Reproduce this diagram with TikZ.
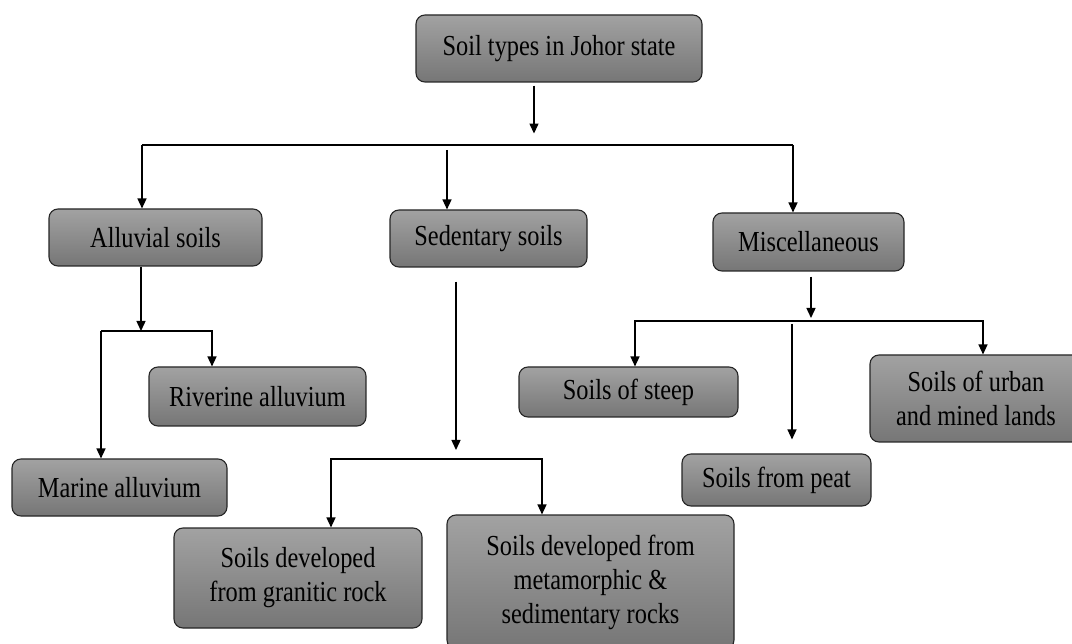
\documentclass[tikz,border=0pt]{standalone}
\usepackage{fontspec}
\setmainfont{Liberation Serif}[FakeStretch=0.84]
\usetikzlibrary{arrows.meta}
\definecolor{boxtop}{HTML}{A2A2A2}
\definecolor{boxbot}{HTML}{767676}
\tikzset{
  soilbox/.style={draw=black!85, line width=1.1pt, rounded corners=9pt,
    top color=boxtop, bottom color=boxbot, inner sep=0pt, align=center,
    font=\fontsize{29}{34}\selectfont},
  arr/.style={line width=1.4pt, -{Triangle[length=10pt,width=9pt]}},
  bus/.style={line width=1.4pt}
}
\begin{document}
\begin{tikzpicture}[x=1pt,y=-1pt]
  \useasboundingbox (0,0) rectangle (1072,644);
  % Boxes
  \node[soilbox, minimum width=286, minimum height=67] (title) at (559,48.5) {Soil types in Johor state};
  \node[soilbox, minimum width=213, minimum height=57] (alluvial) at (155.5,237.5) {Alluvial soils};
  \node[soilbox, minimum width=197, minimum height=57] (sedentary) at (488.5,238.5) {Sedentary soils};
  \node[soilbox, minimum width=191, minimum height=58] (misc) at (808.5,242) {Miscellaneous};
  \node[soilbox, minimum width=217, minimum height=59] (riverine) at (257.5,396.5) {Riverine alluvium};
  \node[soilbox, minimum width=215, minimum height=57] (marine) at (119.5,487.5) {Marine alluvium};
  \node[soilbox, minimum width=219, minimum height=50] (steep) at (628.5,392) {Soils of steep};
  \node[soilbox, minimum width=189, minimum height=52] (peat) at (776.5,480) {Soils from peat};
  \node[soilbox, minimum width=212, minimum height=87] (urban) at (976,398.5) {Soils of urban\\and mined lands};
  \node[soilbox, minimum width=248, minimum height=100] (granitic) at (298,578) {Soils developed\\from granitic rock};
  \node[soilbox, minimum width=287, minimum height=134] (metamorphic) at (590.5,582) {Soils developed from\\metamorphic \&\\sedimentary rocks};

  % Title to the three groups
  \coordinate (busL) at (142,145);
  \coordinate (busR) at (793,145);
  \coordinate (busM) at (447,150);
  \draw[arr] ([xshift=-25pt,yshift=-3pt]title.south) -- ++(0,48);
  \draw[bus] (busL) -- (busR);
  \draw[arr] (busL) -- (busL |- alluvial.north);
  \draw[arr] (busM) -- (busM |- sedentary.north);
  \draw[arr] (busR) -- (busR |- misc.north);

  % Alluvial soils
  \coordinate (brA) at (141,331);
  \coordinate (brAL) at (101,331);
  \coordinate (brAR) at (212,331);
  \draw[arr] (brA |- alluvial.south) -- (brA);
  \draw[arr] (brAL) -- (brAR) -- (brAR |- riverine.north);
  \draw[arr] (brAL) -- (brAL |- marine.north);

  % Sedentary soils
  \coordinate (brS) at (456,459);
  \coordinate (brSL) at (331,459);
  \coordinate (brSR) at (542,459);
  \draw[arr] ([yshift=-14pt]sedentary.south -| brS) -- ([yshift=9pt]brS);
  \draw[arr] (brSR) -- (brSL) -- (brSL |- granitic.north);
  \draw[arr] (brSL) -- (brSR) -- (brSR |- metamorphic.north);

  % Miscellaneous
  \coordinate (brM) at (811,321);
  \coordinate (brML) at (635,321);
  \coordinate (brMR) at (983,321);
  \coordinate (pk) at (792,324);
  \draw[arr] ([yshift=-5pt]misc.south -| brM) -- ([yshift=3pt]brM);
  \draw[arr] (brMR) -- (brML) -- (brML |- steep.north);
  \draw[arr] (brML) -- (brMR) -- (brMR |- urban.north);
  \draw[arr] (pk) -- ([yshift=14pt]pk |- peat.north);
\end{tikzpicture}
\end{document}
